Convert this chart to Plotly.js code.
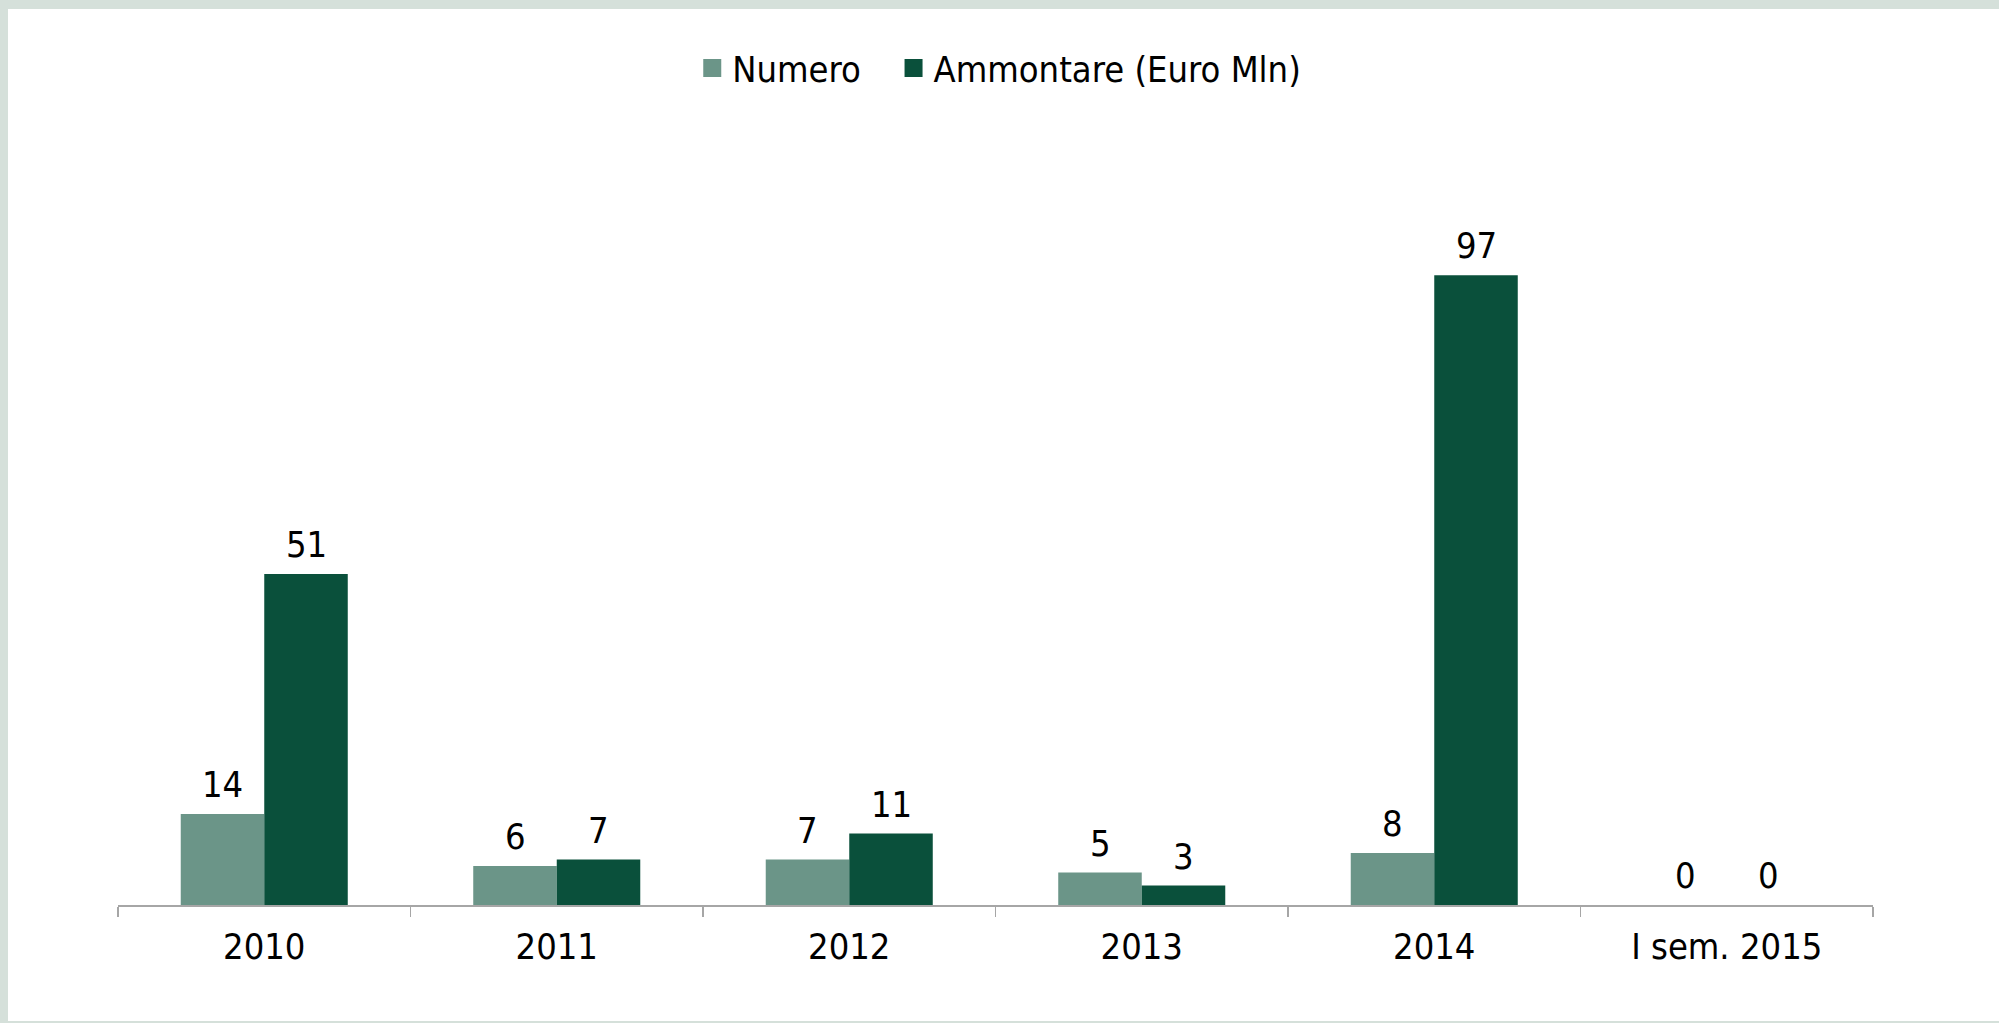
<!DOCTYPE html>
<html>
<head>
<meta charset="utf-8">
<script src="https://cdn.plot.ly/plotly-3.0.1.min.js"></script>
<style>
  html, body { margin: 0; padding: 0; background: #d5e0da; width: 1999px; height: 1023px; overflow: hidden; }
  #chart { position: absolute; left: 8px; top: 9px; width: 1991px; height: 1012px; background: #ffffff; }
</style>
</head>
<body>
<div id="chart"></div>
<script>
const categories = ["2010", "2011", "2012", "2013", "2014", "I sem. 2015"];
const numero = [14, 6, 7, 5, 8, 0];
const ammontare = [51, 7, 11, 3, 97, 0];
const seriesNames = ["Numero", "Ammontare (Euro Mln)"];
const seriesColors = ["#6b9588", "#0a503b"];

const FONT = "DejaVu Sans Condensed, DejaVu Sans, sans-serif";

const traces = [numero, ammontare].map((vals, i) => ({
  type: "bar",
  name: seriesNames[i],
  legend: i === 0 ? "legend" : "legend2",
  x: categories,
  y: vals,
  marker: { color: seriesColors[i] },
  hoverinfo: "x+y"
}));

const annotations = [];
[numero, ammontare].forEach((vals, i) => {
  vals.forEach((v, j) => {
    annotations.push({
      x: j, y: v, xref: "x", yref: "y",
      text: String(v), showarrow: false,
      xshift: i === 0 ? -41.75 : 41.75,
      yanchor: "bottom", yshift: 7,
      font: { family: FONT, size: 36, color: "#000000" }
    });
  });
});

const legendBase = {
  orientation: "h", xanchor: "left", y: 1.0941, yanchor: "middle",
  font: { family: FONT, size: 36, color: "#000000" },
  bgcolor: "rgba(0,0,0,0)"
};

const layout = {
  width: 1991, height: 1012,
  paper_bgcolor: "#ffffff", plot_bgcolor: "#ffffff",
  margin: { l: 109.75, r: 126.25, t: 131, b: 116 },
  barmode: "group", bargap: 0.429, bargroupgap: 0,
  font: { family: FONT, size: 36, color: "#000000" },
  showlegend: true,
  legend: Object.assign({}, legendBase, { x: (684 - 109.75) / 1755 }),
  legend2: Object.assign({}, legendBase, { x: (885.3 - 109.75) / 1755 }),
  xaxis: {
    type: "category",
    range: [-0.5, categories.length - 0.5],
    autorange: false,
    showline: true, linecolor: "#a6a6a6", linewidth: 1.5,
    ticks: "outside", tickson: "boundaries", ticklen: 10, tickcolor: "#a6a6a6", tickwidth: 1.5,
    ticklabelstandoff: 9,
    showgrid: false, zeroline: false,
    tickangle: 0,
    tickfont: { family: FONT, size: 36, color: "#000000" }
  },
  yaxis: {
    range: [0, 117.84],
    autorange: false,
    visible: false, showgrid: false, zeroline: false
  },
  annotations: annotations
};

Plotly.newPlot("chart", traces, layout, { displayModeBar: false, staticPlot: true }).then(function (gd) {
  // enlarge legend swatches to match the reference
  gd.querySelectorAll(".legendpoints path").forEach(function (p) {
    p.setAttribute("d", "M9,9H-9V-9H9Z");
  });
});
</script>
</body>
</html>
